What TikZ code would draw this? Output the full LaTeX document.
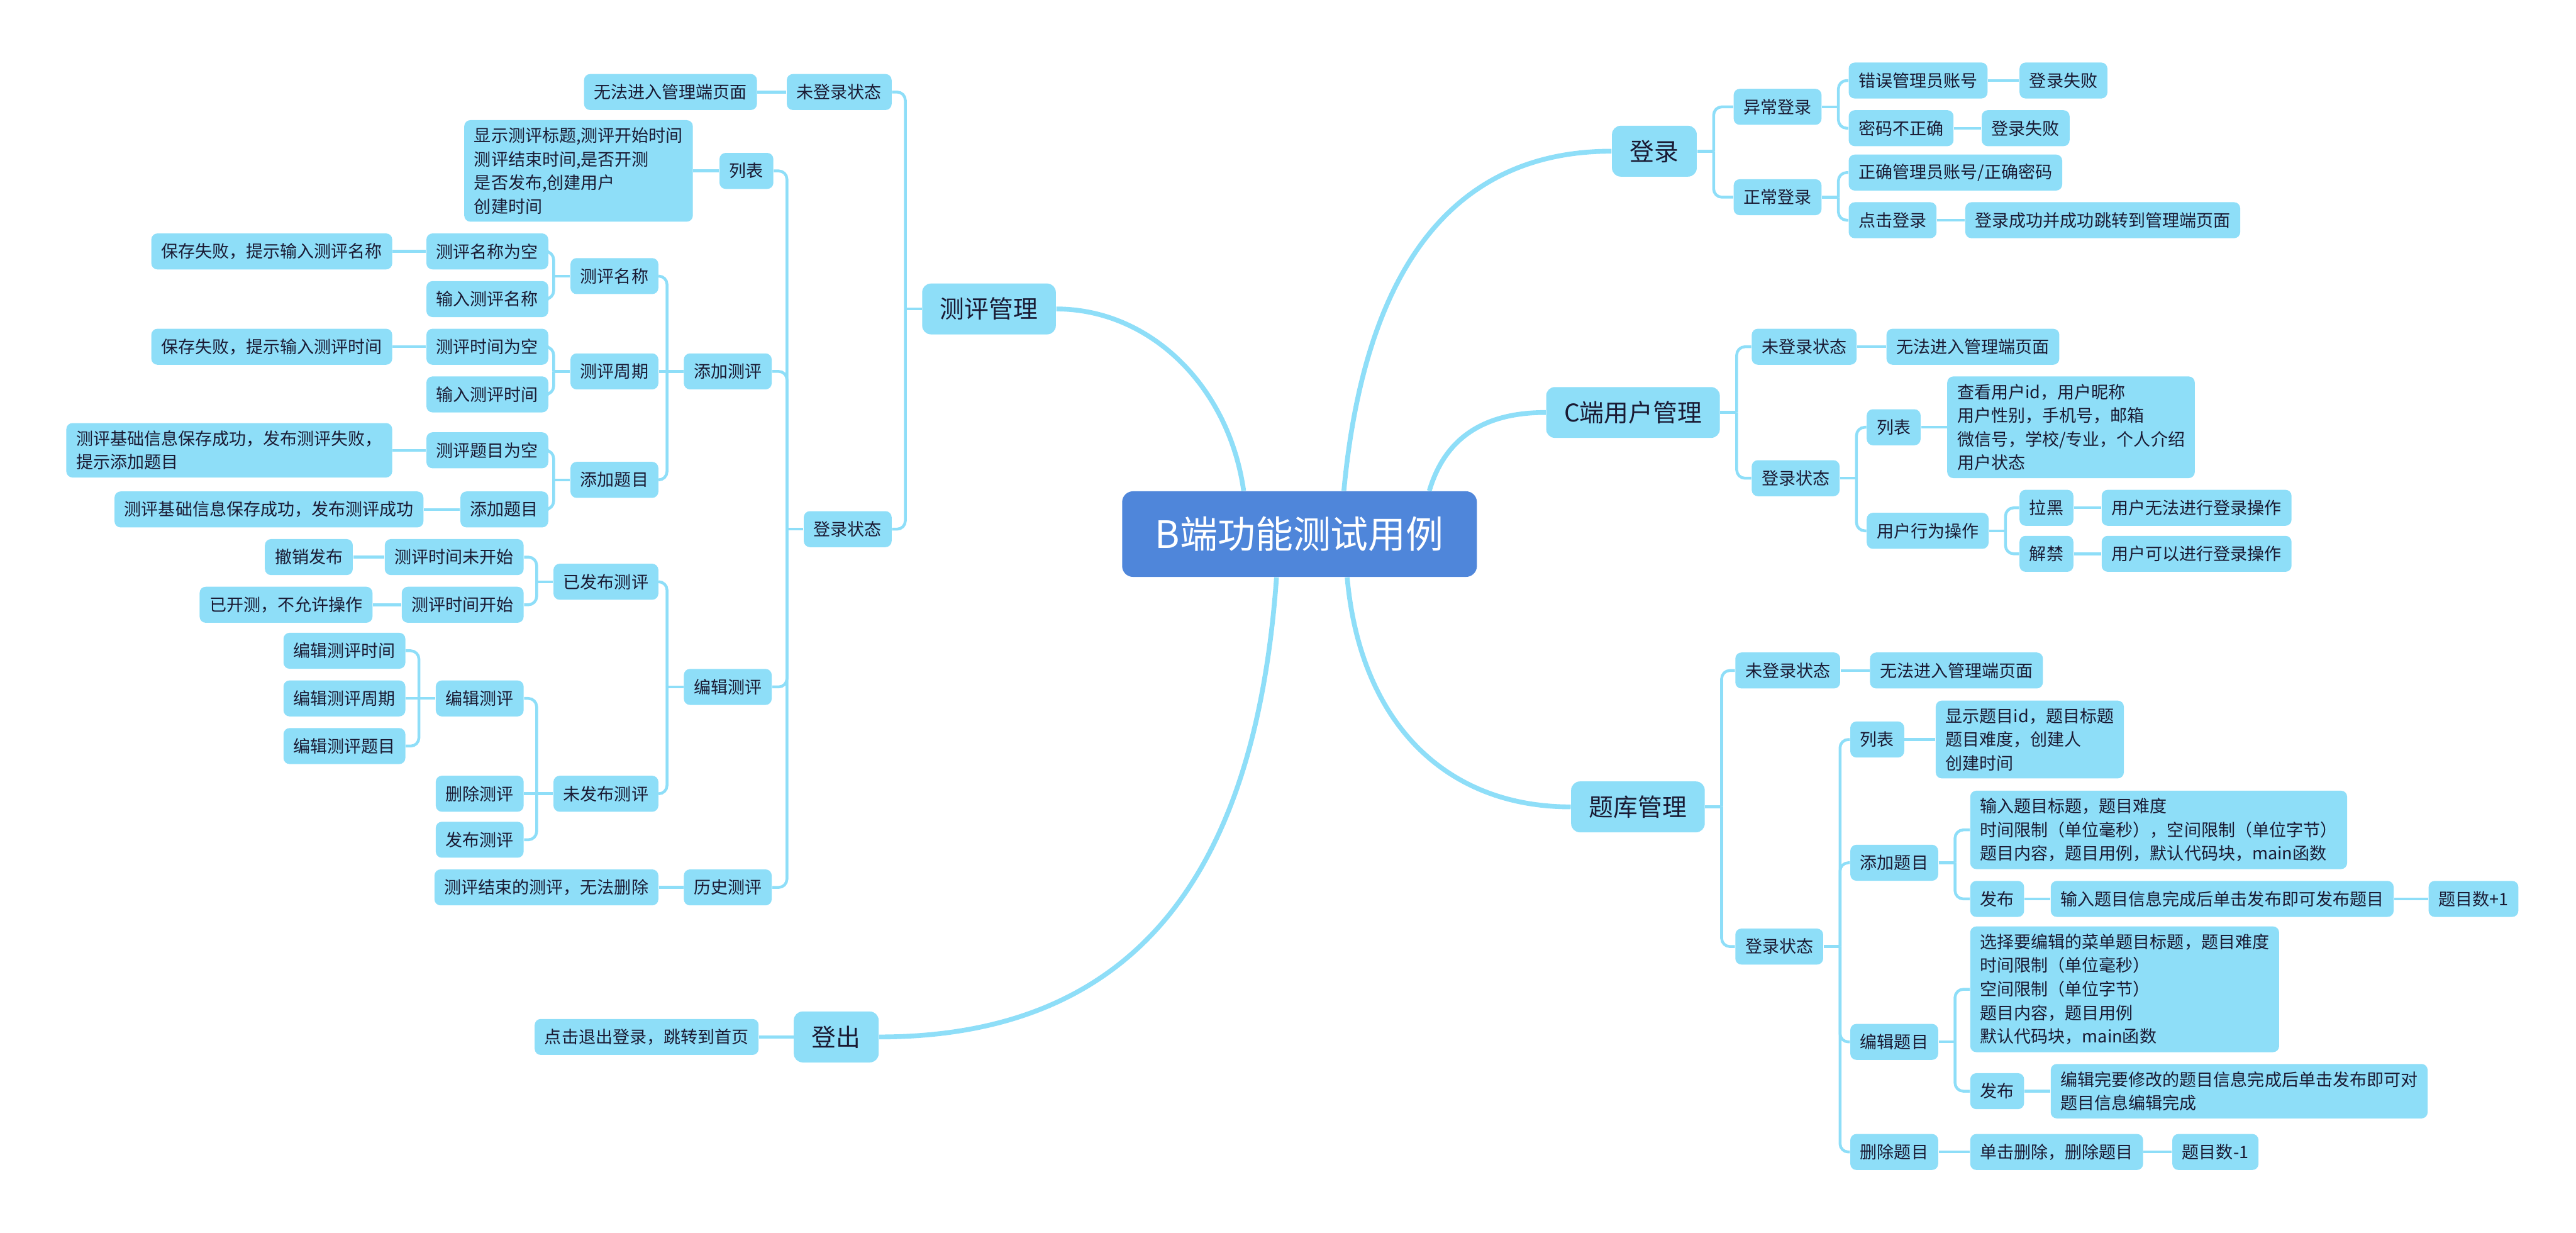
\documentclass[tikz,border=0pt]{standalone}
\usepackage{fontspec}
\setmainfont{Noto Sans CJK SC}
\usetikzlibrary{calc}

\definecolor{boxblue}{HTML}{8EDEF8}
\definecolor{lineblue}{HTML}{8EDEF8}
\definecolor{hubblue}{HTML}{4F86DA}
\definecolor{ink}{HTML}{1A1A33}

\newcommand\leaffont{\fontsize{7.8}{10.85}\selectfont}
\newcommand\topicfont{\fontsize{11.2}{13}\selectfont}
\newcommand\hubfont{\fontsize{17.3}{20}\selectfont}

% fork to the right / to the left
\newcommand\rfork[2]{%
  \draw[link] (#1.east) -- ++(10,0) coordinate (#1-j);
  \foreach \kid in {#2} {\draw[link, rounded corners=3.8pt] (#1-j) |- (\kid.west);}
}
\newcommand\lfork[2]{%
  \draw[link] (#1.west) -- ++(-10,0) coordinate (#1-j);
  \foreach \kid in {#2} {\draw[link, rounded corners=3.8pt] (#1-j) |- (\kid.east);}
}

\begin{document}
\begin{tikzpicture}[x=0.02649cm, y=-0.02649cm,
  box/.style={fill=boxblue, text=ink, inner sep=0pt, rounded corners=2.8pt},
  leaf/.style={box, font=\leaffont, inner xsep=0.16cm, minimum height=0.58cm},
  note/.style={leaf, align=left, inner ysep=0.12cm},
  lleaf/.style={leaf, anchor=east}, rleaf/.style={leaf, anchor=west},
  lnote/.style={note, anchor=east}, rnote/.style={note, anchor=west},
  topic/.style={box, font=\topicfont, inner xsep=0.29cm, minimum height=0.82cm, rounded corners=4pt},
  hub/.style={fill=hubblue, text=white, font=\hubfont, minimum width=5.72cm, minimum height=1.38cm, rounded corners=5pt},
  link/.style={draw=lineblue, line width=1.3pt},
  trunk/.style={draw=lineblue, line width=2.2pt}]
  \useasboundingbox (0,0) rectangle (1568,750);

  \node[hub] (root) at (791,325) {B端功能测试用例};
  % main topics
  \node[topic] (cp) at (602,188) {测评管理};
  \node[topic] (lo) at (509,631) {登出};
  \node[topic] (li) at (1007,92) {登录};
  \node[topic] (cu) at (994,251) {C端用户管理};
  \node[topic] (qb) at (997,491) {题库管理};
  \draw[trunk] ($(root.north)+(-34,0)$) .. controls (748,235) and (700,188) .. (cp.east);
  \draw[trunk] ($(root.south)+(-14,0)$) .. controls (765,520) and (700,631) .. (lo.east);
  \draw[trunk] ($(root.north)+(27,0)$) .. controls (830,170) and (880,92) .. (li.west);
  \draw[trunk] ($(root.north)+(79,0)$) .. controls (880,265) and (905,251) .. (cu.west);
  \draw[trunk] ($(root.south)+(29,0)$) .. controls (828,440) and (880,491) .. (qb.west);

  % 测评管理
  \node[lleaf] (cp-out) at (543,56) {未登录状态};
  \node[lleaf] (cp-out-a) at (461,56) {无法进入管理端页面};
  \node[lleaf] (cp-in) at (543,322) {登录状态};
  \node[lleaf] (cp-list) at (471,104) {列表};
  \node[lnote] (cp-list-a) at (422,104) {显示测评标题,测评开始时间\\测评结束时间,是否开测\\是否发布,创建用户\\创建时间};
  \node[lleaf] (cp-add) at (470,226) {添加测评};
  \node[lleaf] (cp-name) at (401,168) {测评名称};
  \node[lleaf] (cp-name-e) at (334,153) {测评名称为空};
  \node[lleaf] (cp-name-e-a) at (239,153) {保存失败，提示输入测评名称};
  \node[lleaf] (cp-name-i) at (334,182) {输入测评名称};
  \node[lleaf] (cp-time) at (401,226) {测评周期};
  \node[lleaf] (cp-time-e) at (334,211) {测评时间为空};
  \node[lleaf] (cp-time-e-a) at (239,211) {保存失败，提示输入测评时间};
  \node[lleaf] (cp-time-i) at (334,240) {输入测评时间};
  \node[lleaf] (cp-q) at (401,292) {添加题目};
  \node[lleaf] (cp-q-e) at (334,274) {测评题目为空};
  \node[lnote] (cp-q-e-a) at (239,274) {测评基础信息保存成功，发布测评失败，\\提示添加题目};
  \node[lleaf] (cp-q-a) at (334,310) {添加题目};
  \node[lleaf] (cp-q-a-a) at (258,310) {测评基础信息保存成功，发布测评成功};
  \node[lleaf] (cp-edit) at (470,418) {编辑测评};
  \node[lleaf] (cp-pub) at (401,354) {已发布测评};
  \node[lleaf] (cp-pub-n) at (319,339) {测评时间未开始};
  \node[lleaf] (cp-pub-n-a) at (215,339) {撤销发布};
  \node[lleaf] (cp-pub-s) at (319,368) {测评时间开始};
  \node[lleaf] (cp-pub-s-a) at (227,368) {已开测，不允许操作};
  \node[lleaf] (cp-unp) at (401,483) {未发布测评};
  \node[lleaf] (cp-unp-e) at (319,425) {编辑测评};
  \node[lleaf] (cp-e1) at (247,396) {编辑测评时间};
  \node[lleaf] (cp-e2) at (247,425) {编辑测评周期};
  \node[lleaf] (cp-e3) at (247,454) {编辑测评题目};
  \node[lleaf] (cp-unp-d) at (319,483) {删除测评};
  \node[lleaf] (cp-unp-p) at (319,511) {发布测评};
  \node[lleaf] (cp-hist) at (470,540) {历史测评};
  \node[lleaf] (cp-hist-a) at (401,540) {测评结束的测评，无法删除};

  \lfork{cp}{cp-out,cp-in}
  \draw[link] (cp-out.west) -- (cp-out-a.east);
  \lfork{cp-in}{cp-list,cp-add,cp-edit,cp-hist}
  \draw[link] (cp-list.west) -- (cp-list-a.east);
  \lfork{cp-add}{cp-name,cp-q}
  \draw[link] (cp-add-j) -- (cp-time.east);
  \lfork{cp-name}{cp-name-e,cp-name-i}
  \draw[link] (cp-name-e.west) -- (cp-name-e-a.east);
  \lfork{cp-time}{cp-time-e,cp-time-i}
  \draw[link] (cp-time-e.west) -- (cp-time-e-a.east);
  \lfork{cp-q}{cp-q-e,cp-q-a}
  \draw[link] (cp-q-e.west) -- (cp-q-e-a.east);
  \draw[link] (cp-q-a.west) -- (cp-q-a-a.east);
  \lfork{cp-edit}{cp-pub,cp-unp}
  \lfork{cp-pub}{cp-pub-n,cp-pub-s}
  \draw[link] (cp-pub-n.west) -- (cp-pub-n-a.east);
  \draw[link] (cp-pub-s.west) -- (cp-pub-s-a.east);
  \lfork{cp-unp}{cp-unp-e,cp-unp-p}
  \draw[link] (cp-unp-j) -- (cp-unp-d.east);
  \lfork{cp-unp-e}{cp-e1,cp-e3}
  \draw[link] (cp-unp-e-j) -- (cp-e2.east);
  \draw[link] (cp-hist.west) -- (cp-hist-a.east);

  % 登出
  \node[lleaf] (lo-a) at (462,631) {点击退出登录，跳转到首页};
  \draw[link] (lo.west) -- (lo-a.east);

  % 登录
  \node[rleaf] (li-err) at (1055,65) {异常登录};
  \node[rleaf] (li-err-1) at (1125,49) {错误管理员账号};
  \node[rleaf] (li-err-1-a) at (1229,49) {登录失败};
  \node[rleaf] (li-err-2) at (1125,78) {密码不正确};
  \node[rleaf] (li-err-2-a) at (1206,78) {登录失败};
  \node[rleaf] (li-ok) at (1055,120) {正常登录};
  \node[rleaf] (li-ok-1) at (1125,105) {正确管理员账号/正确密码};
  \node[rleaf] (li-ok-2) at (1125,134) {点击登录};
  \node[rleaf] (li-ok-2-a) at (1196,134) {登录成功并成功跳转到管理端页面};
  \rfork{li}{li-err,li-ok}
  \rfork{li-err}{li-err-1,li-err-2}
  \draw[link] (li-err-1.east) -- (li-err-1-a.west);
  \draw[link] (li-err-2.east) -- (li-err-2-a.west);
  \rfork{li-ok}{li-ok-1,li-ok-2}
  \draw[link] (li-ok-2.east) -- (li-ok-2-a.west);

  % C端用户管理
  \node[rleaf] (cu-out) at (1066,211) {未登录状态};
  \node[rleaf] (cu-out-a) at (1148,211) {无法进入管理端页面};
  \node[rleaf] (cu-in) at (1066,291) {登录状态};
  \node[rleaf] (cu-list) at (1136,260) {列表};
  \node[rnote] (cu-list-a) at (1185,260) {查看用户id，用户昵称\\用户性别，手机号，邮箱\\微信号，学校/专业，个人介绍\\用户状态};
  \node[rleaf] (cu-act) at (1136,323) {用户行为操作};
  \node[rleaf] (cu-ban) at (1229,309) {拉黑};
  \node[rleaf] (cu-ban-a) at (1279,309) {用户无法进行登录操作};
  \node[rleaf] (cu-unban) at (1229,337) {解禁};
  \node[rleaf] (cu-unban-a) at (1279,337) {用户可以进行登录操作};
  \rfork{cu}{cu-out,cu-in}
  \draw[link] (cu-out.east) -- (cu-out-a.west);
  \rfork{cu-in}{cu-list,cu-act}
  \draw[link] (cu-list.east) -- (cu-list-a.west);
  \rfork{cu-act}{cu-ban,cu-unban}
  \draw[link] (cu-ban.east) -- (cu-ban-a.west);
  \draw[link] (cu-unban.east) -- (cu-unban-a.west);

  % 题库管理
  \node[rleaf] (qb-out) at (1056,408) {未登录状态};
  \node[rleaf] (qb-out-a) at (1138,408) {无法进入管理端页面};
  \node[rleaf] (qb-in) at (1056,576) {登录状态};
  \node[rleaf] (qb-list) at (1126,450) {列表};
  \node[rnote] (qb-list-a) at (1178,450) {显示题目id，题目标题\\题目难度，创建人\\创建时间};
  \node[rleaf] (qb-add) at (1126,525) {添加题目};
  \node[rnote] (qb-add-a) at (1199,505) {输入题目标题，题目难度\\时间限制（单位毫秒），空间限制（单位字节）\\题目内容，题目用例，默认代码块，main函数};
  \node[rleaf] (qb-add-p) at (1199,547) {发布};
  \node[rleaf] (qb-add-p-a) at (1248,547) {输入题目信息完成后单击发布即可发布题目};
  \node[rleaf] (qb-add-p-b) at (1478,547) {题目数+1};
  \node[rleaf] (qb-edit) at (1126,634) {编辑题目};
  \node[rnote] (qb-edit-a) at (1199,602) {选择要编辑的菜单题目标题，题目难度\\时间限制（单位毫秒）\\空间限制（单位字节）\\题目内容，题目用例\\默认代码块，main函数};
  \node[rleaf] (qb-edit-p) at (1199,664) {发布};
  \node[rnote] (qb-edit-p-a) at (1248,664) {编辑完要修改的题目信息完成后单击发布即可对\\题目信息编辑完成};
  \node[rleaf] (qb-del) at (1126,701) {删除题目};
  \node[rleaf] (qb-del-a) at (1199,701) {单击删除，删除题目};
  \node[rleaf] (qb-del-b) at (1322,701) {题目数-1};
  \rfork{qb}{qb-out,qb-in}
  \draw[link] (qb-out.east) -- (qb-out-a.west);
  \rfork{qb-in}{qb-list,qb-add,qb-edit,qb-del}
  \draw[link] (qb-list.east) -- (qb-list-a.west);
  \rfork{qb-add}{qb-add-a,qb-add-p}
  \draw[link] (qb-add-p.east) -- (qb-add-p-a.west);
  \draw[link] (qb-add-p-a.east) -- (qb-add-p-b.west);
  \rfork{qb-edit}{qb-edit-a,qb-edit-p}
  \draw[link] (qb-edit-p.east) -- (qb-edit-p-a.west);
  \draw[link] (qb-del.east) -- (qb-del-a.west);
  \draw[link] (qb-del-a.east) -- (qb-del-b.west);
\end{tikzpicture}
\end{document}
